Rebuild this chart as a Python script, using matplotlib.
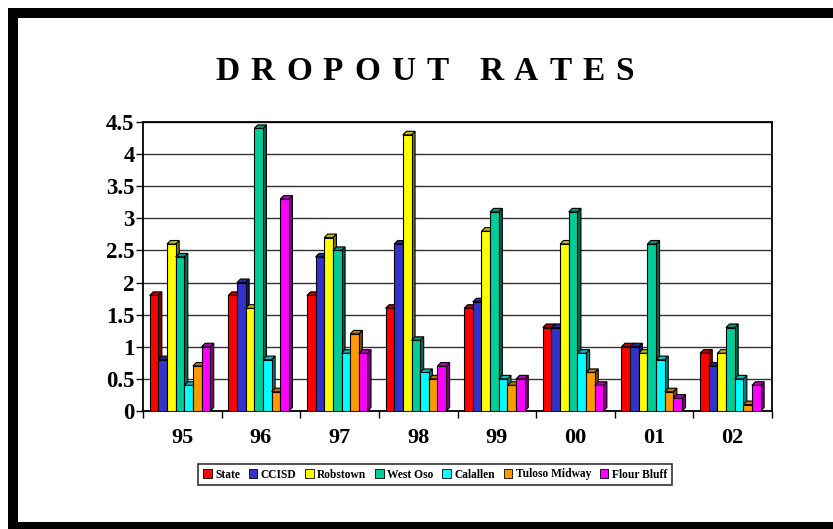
import matplotlib
matplotlib.use("Agg")
import matplotlib.pyplot as plt
from matplotlib.patches import Polygon, Rectangle
from matplotlib.colors import to_rgb
from matplotlib.font_manager import findfont, FontProperties
from matplotlib.ft2font import FT2Font
import numpy as np

years = ["95", "96", "97", "98", "99", "00", "01", "02"]
series_names = ["State", "CCISD", "Robstown", "West Oso", "Calallen", "Tuloso Midway", "Flour Bluff"]
state      = [1.8, 1.8, 1.8, 1.6, 1.6, 1.3, 1.0, 0.9]
ccisd      = [0.8, 2.0, 2.4, 2.6, 1.7, 1.3, 1.0, 0.7]
robstown   = [2.6, 1.6, 2.7, 4.3, 2.8, 2.6, 0.9, 0.9]
west_oso   = [2.4, 4.4, 2.5, 1.1, 3.1, 3.1, 2.6, 1.3]
calallen   = [0.4, 0.8, 0.9, 0.6, 0.5, 0.9, 0.8, 0.5]
tuloso     = [0.7, 0.3, 1.2, 0.5, 0.4, 0.6, 0.3, 0.1]
flourbluff = [1.0, 3.3, 0.9, 0.7, 0.5, 0.4, 0.2, 0.4]
series = [state, ccisd, robstown, west_oso, calallen, tuloso, flourbluff]
colors = ["#FF0000", "#3333CC", "#FFFF00", "#00CC99", "#00FFFF", "#FF9900", "#FF00FF"]
yticks = [0, 0.5, 1, 1.5, 2, 2.5, 3, 3.5, 4, 4.5]
ytick_labels = ["0", "0.5", "1", "1.5", "2", "2.5", "3", "3.5", "4", "4.5"]
title = "DROPOUT RATES"

W, H = 833, 529
fig = plt.figure(figsize=(W / 100, H / 100), dpi=100)
fig.patch.set_facecolor("white")

serif = "Liberation Serif"

def fx(px):
    return px / W

def fy(py):
    return 1 - py / H

# outer black frame
for (x0, y0, x1, y1) in [(8, 8, W, 18), (8, 8, 18, H), (8, 522, W, H)]:
    fig.patches.append(Rectangle((fx(x0), fy(y1)), fx(x1) - fx(x0), fy(y0) - fy(y1),
                                 transform=fig.transFigure, facecolor="black",
                                 edgecolor="none", zorder=0))

ax = fig.add_axes([fx(143), fy(411), fx(772) - fx(143), fy(122) - fy(411)])
ax.set_xlim(-0.5, len(years) - 0.5)
ax.set_ylim(0, 4.5)

bw = 0.11
dx = 0.045
dy = 0.055
shift = -0.03

def darker(c, f):
    r, g, b = to_rgb(c)
    return (r * f, g * f, b * f)

for j, (vals, col) in enumerate(zip(series, colors)):
    for i, v in enumerate(vals):
        x0 = i + shift + (j - 3.5) * bw
        x1 = x0 + bw
        z = 3 + j * 0.1
        ax.add_patch(Rectangle((x0, 0), bw, v, facecolor=col, edgecolor="black",
                               linewidth=0.8, zorder=z))
        ax.add_patch(Polygon([(x1, 0), (x1 + dx, dy), (x1 + dx, v + dy), (x1, v)],
                             closed=True, facecolor=darker(col, 0.5), edgecolor="black",
                             linewidth=0.8, zorder=z - 0.05))
        ax.add_patch(Polygon([(x0, v), (x0 + dx, v + dy), (x1 + dx, v + dy), (x1, v)],
                             closed=True, facecolor=darker(col, 0.75), edgecolor="black",
                             linewidth=0.8, zorder=z + 0.01))

ax.set_yticks(yticks)
ax.set_yticklabels(ytick_labels, fontfamily=serif, fontweight="bold", fontsize=16.5)
ax.set_xticks(range(len(years)))
ax.set_xticklabels(years, fontfamily=serif, fontweight="bold", fontsize=16)
ax.set_xticks(np.arange(-0.5, len(years), 1.0), minor=True)
ax.tick_params(axis="x", which="major", length=0, pad=12)
ax.tick_params(axis="x", which="minor", length=5, direction="out", width=1)
ax.tick_params(axis="y", length=5, width=1, direction="out", pad=1)
ax.yaxis.grid(True, color="#333333", linewidth=1.0, zorder=0)
ax.set_axisbelow(True)
for s in ax.spines.values():
    s.set_color("black")
    s.set_linewidth(1.3)

# title with letter tracking
tsize = 24
tracking = 11.0
fp = FontProperties(family=serif, weight="bold", size=tsize)
ft = FT2Font(findfont(fp))
ft.set_size(tsize, 100)
adv = []
for ch in title:
    g = ft.load_char(ord(ch))
    adv.append(g.linearHoriAdvance / 65536.0)
total = sum(adv) + tracking * (len(title) - 1)
xpos = 425 - total / 2
for ch, a in zip(title, adv):
    if ch != " ":
        fig.text(fx(xpos), fy(80), ch, ha="left", va="baseline",
                 fontfamily=serif, fontweight="bold", fontsize=tsize)
    xpos += a + tracking

handles = [Rectangle((0, 0), 1, 1, facecolor=c, edgecolor="black", linewidth=0.6) for c in colors]
leg = fig.legend(handles, series_names, loc="center", bbox_to_anchor=(fx(435), fy(474.5)),
                 ncol=7, frameon=True, fancybox=False, shadow=False,
                 prop={"family": serif, "weight": "bold", "size": 8.3},
                 handlelength=0.75, handleheight=0.75, handletextpad=0.3,
                 columnspacing=0.75, borderpad=0.4, borderaxespad=0)
leg.get_frame().set_edgecolor("black")
leg.get_frame().set_linewidth(1.2)

fig.savefig("out.png", dpi=100)
